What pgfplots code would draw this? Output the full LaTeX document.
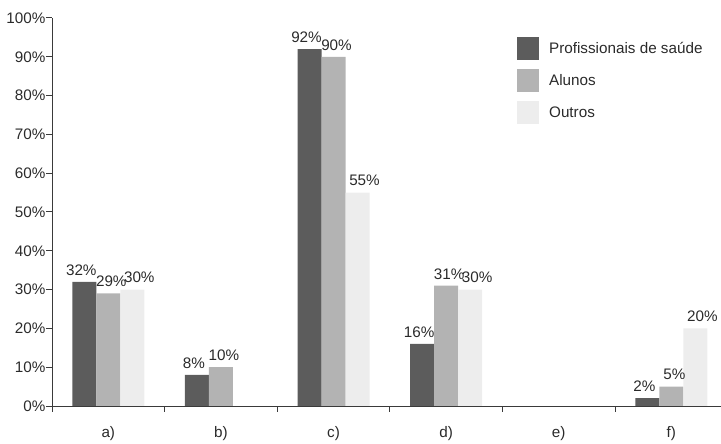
\documentclass[border=0pt]{standalone}
\usepackage{pgfplots}
\pgfplotsset{compat=1.18}
\usepackage{fontspec}
\setmainfont{Liberation Sans}
\definecolor{cdark}{HTML}{5C5C5C}
\definecolor{cmid}{HTML}{B3B3B3}
\definecolor{clight}{HTML}{EDEDED}
\definecolor{axc}{HTML}{3A3A3A}
\definecolor{txt}{HTML}{2A2A2A}
\begin{document}
\begin{tikzpicture}[font=\fontsize{15.3}{18}\selectfont]
\path[use as bounding box] (-52bp,-38bp) rectangle (669bp,406bp);
\begin{axis}[
 at={(0,0)}, anchor=south west,
 scale only axis, width=669bp, height=388bp,
 xmin=-0.5, xmax=5.441, ymin=0, ymax=100,
 axis lines=left, axis line style={-, draw=axc, line width=1bp},
 ybar=0pt, bar width=24bp,
 xtick={-0.5,0.5,1.5,2.5,3.5,4.5}, xticklabels={a),b),c),d),e),f)},
 xticklabel style={xshift=56.3bp, yshift=-11bp},
 ytick={0,10,...,100}, yticklabel={\pgfmathprintnumber{\tick}\%},
 yticklabel style={xshift=3bp},
 tick align=outside, major tick length=6bp, tick style={draw=axc, line width=1bp},
 /pgf/number format/assume math mode=true,
 ticklabel style={text=txt, font=\fontsize{15.3}{18}\selectfont},
 nodes near coords={\pgfmathfloatifflags{\pgfplotspointmeta}{0}{}{\pgfmathprintnumber{\pgfplotspointmeta}\%}},
 every node near coord/.append style={text=txt, font=\fontsize{15.3}{18}\selectfont, yshift=3bp},
 legend style={at={(0.695,0.951)}, anchor=north west, draw=none, fill=none, inner sep=0pt, row sep=9bp, font=\fontsize{15.3}{18}\selectfont, text=txt,
   /tikz/every odd column/.append style={column sep=8bp}},
 legend cell align=left,
 legend image code/.code={\fill[#1] (0bp,-11.5bp) rectangle (22bp,11.5bp);},
]
\addplot[fill=cdark, draw=none, every node near coord/.append style={xshift=-3bp}] coordinates {(0,32) (1,8) (2,92) (3,16) (4,0) (5,2)};
\addplot[fill=cmid, draw=none, every node near coord/.append style={xshift=3bp}] coordinates {(0,29) (1,10) (2,90) (3,31) (4,0) (5,5)};
\addplot[fill=clight, draw=none, every node near coord/.append style={xshift=7bp}] coordinates {(0,30) (1,0) (2,55) (3,30) (4,0) (5,20)};
\legend{Profissionais de saúde, Alunos, Outros}
\end{axis}
\end{tikzpicture}
\end{document}
